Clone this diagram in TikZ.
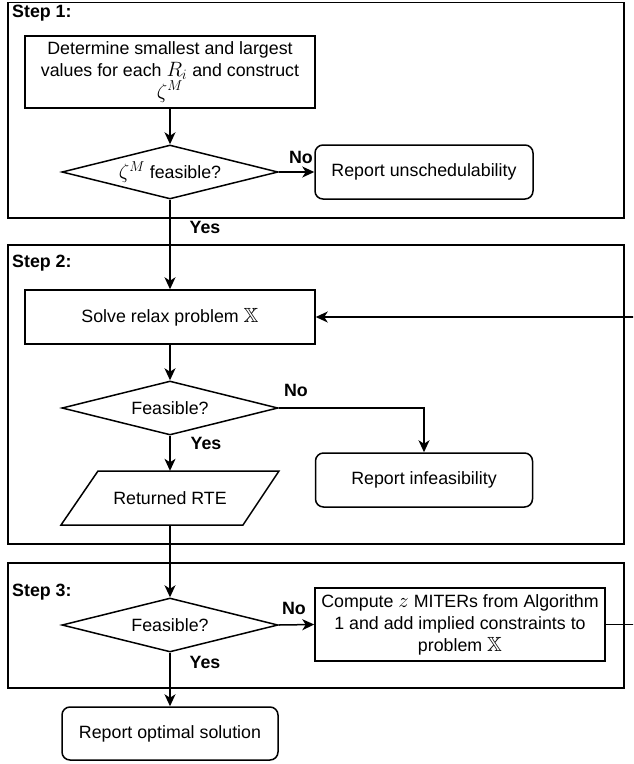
\documentclass[tikz,border=0pt]{standalone}
\usepackage{amssymb}
\usepackage{fontspec}
\setmainfont{Liberation Sans}
\usetikzlibrary{shapes.geometric,arrows.meta}
\newcommand{\mathbig}[1]{{\fontsize{20.5}{22}\selectfont$#1$}}
\begin{document}
\begin{tikzpicture}[x=1pt,y=-1pt,
  every node/.style={font=\fontsize{17.8}{22}\selectfont},
  ln/.style={line width=1.5pt},
  frame/.style={draw,line width=1.6pt,minimum width=616pt,inner sep=0pt,anchor=north west},
  proc/.style={draw,ln,rectangle,align=center,inner sep=1pt},
  term/.style={draw,ln,rectangle,rounded corners=8pt,align=center,minimum width=217pt,minimum height=54pt},
  dia/.style={draw,ln,diamond,aspect=4,inner sep=0pt,minimum width=216pt,minimum height=54pt},
  lbl/.style={font=\fontsize{17.8}{22}\selectfont\bfseries,inner sep=0pt},
  arr/.style={ln,-{Stealth[length=12pt,width=11pt,inset=3.5pt]}}
]
\useasboundingbox (0,0) rectangle (633,764);
\clip (0,0) rectangle (633,764);
\fill[white] (0,0) rectangle (633,764);

% frames
\node[frame,minimum height=215.5pt] (step1) at (7,1.5) {};
\node[frame,minimum height=299pt] (step2) at (7,244) {};
\node[frame,minimum height=125pt] (step3) at (7,562) {};
\node[lbl,anchor=west] (s1) at (12,13) {Step 1:};
\node[lbl,anchor=west] (s2) at (12,263) {Step 2:};
\node[lbl,anchor=west] (s3) at (12,592) {Step 3:};

% step 1
\node[proc,minimum width=290pt,minimum height=72pt] (det) at (170,72)
  {Determine smallest and largest\\values for each \mathbig{R_i} and construct\\\mathbig{\zeta^M}};
\node[dia] (d1) at (170,172) {\mathbig{\zeta^M} feasible?};
\node[term,minimum width=218pt] (unsched) at (424,172) {Report unschedulability};

% step 2
\node[proc,minimum width=290pt,minimum height=54pt] (solve) at (170,317) {Solve relax problem \mathbig{\mathbb{X}}};
\node[dia] (d2) at (170,408) {Feasible?};
\node[term] (infeas) at (424,480) {Report infeasibility};
\node[minimum width=181pt,minimum height=54pt,inner sep=0pt] (rte) at (170,498) {Returned RTE};
\draw[ln] (61,525) -- (98,471) -- (279,471) -- (243,525) -- cycle;

% step 3
\node[dia] (d3) at (170,625) {Feasible?};
\node[proc,minimum width=290pt,minimum height=73pt] (comp) at (460,624.5)
  {Compute \mathbig{z} MITERs from Algorithm\\1 and add implied constraints to\\problem \mathbig{\mathbb{X}}};
\node[term,minimum width=216pt,minimum height=53pt] (opt) at (170,733.5) {Report optimal solution};

% labels
\node[lbl] (no1) at (301,157) {No};
\node[lbl] (yes1) at (205,227) {Yes};
\node[lbl] (no2) at (296,390) {No};
\node[lbl] (yes2) at (206,443) {Yes};
\node[lbl] (no3) at (294,608) {No};
\node[lbl] (yes3) at (205,662) {Yes};

% connectors
\draw[arr] (det.south) -- (d1.north);
\draw[arr] (d1.east) -- (unsched.west);
\draw[arr] (d1.south) -- (solve.north);
\draw[arr] (solve.south) -- (d2.north);
\draw[arr] (d2.east) -| (infeas.north);
\draw[arr] (d2.south) -- (rte.north);
\draw[arr] (rte.south) -- (d3.north);
\draw[arr] (d3.east) -- (comp.west);
\draw[arr] (d3.south) -- (opt.north);
\coordinate (loop) at (645,624.5);
\draw[arr] (comp.east) -- (loop) |- (solve.east);
\end{tikzpicture}
\end{document}
